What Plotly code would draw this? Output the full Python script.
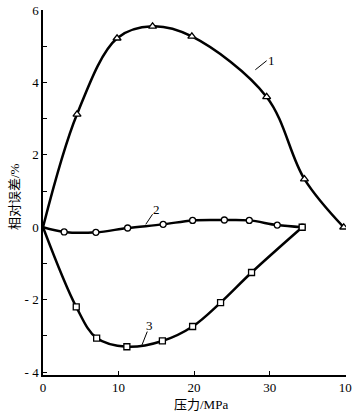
import plotly.graph_objects as go

# Curve 1 (triangles)
x1 = [0, 4.5, 9.8, 14.5, 19.7, 29.6, 34.6, 39.8]
y1 = [0, 3.12, 5.22, 5.55, 5.27, 3.6, 1.33, 0.0]
# Curve 2 (circles)
x2 = [0, 2.8, 7.0, 11.2, 15.9, 19.8, 24.0, 27.3, 31.0, 34.3]
y2 = [0, -0.13, -0.14, -0.02, 0.08, 0.19, 0.2, 0.19, 0.06, 0.0]
# Curve 3 (squares)
x3 = [0, 4.4, 7.1, 11.1, 15.8, 19.8, 23.5, 27.6, 34.3]
y3 = [0, -2.2, -3.06, -3.3, -3.14, -2.74, -2.08, -1.25, 0.0]

x_tickvals = [0, 10, 20, 30, 40]
x_ticktext = ["0", "10", "20", "30", "10"]
y_tickvals = [-4, -3, -2, -1, 0, 1, 2, 3, 4, 5, 6]
y_ticktext = ["- 4", "", "- 2", "", "0", "", "2", "", "4", "", "6"]

FONT = "Liberation Serif, Noto Sans CJK SC"

fig = go.Figure()
for xs, ys, sym, sz in [(x1, y1, "triangle-up", 7),
                        (x2, y2, "circle", 6),
                        (x3, y3, "square", 6)]:
    fig.add_trace(go.Scatter(
        x=xs, y=ys, mode="lines",
        line=dict(color="black", width=2.5, shape="spline", smoothing=1.0),
        showlegend=False, hoverinfo="skip"))
    fig.add_trace(go.Scatter(
        x=xs[1:], y=ys[1:], mode="markers",
        marker=dict(symbol=sym, size=sz, color="white", line=dict(width=1.3, color="black")),
        showlegend=False, hoverinfo="skip"))

# curve labels with leader lines
labels = [("1", 30.3, 4.6, 28.1, 4.35, 29.6, 4.6),
          ("2", 15.0, 0.48, 13.6, 0.08, 14.5, 0.36),
          ("3", 14.1, -2.7, 13.1, -3.25, 13.8, -2.88)]
for t, tx, ty, lx0, ly0, lx1, ly1 in labels:
    fig.add_annotation(x=tx, y=ty, text=t, showarrow=False,
                       font=dict(family=FONT, size=13, color="black"))
    fig.add_shape(type="line", x0=lx0, y0=ly0, x1=lx1, y1=ly1,
                  line=dict(color="black", width=1))

fig.add_annotation(xref="paper", yref="paper", x=0.52, y=-0.082,
                   xanchor="center", yanchor="middle",
                   text="压力/MPa", showarrow=False,
                   font=dict(family=FONT, size=13, color="black"))
fig.add_annotation(xref="paper", yref="paper", x=-0.096, y=0.49,
                   xanchor="center", yanchor="middle",
                   text="相对误差/%", showarrow=False, textangle=-90,
                   font=dict(family=FONT, size=13, color="black"))

fig.update_xaxes(range=[0, 40.1], tickvals=x_tickvals, ticktext=x_ticktext,
                 ticks="inside", ticklen=4, tickcolor="black",
                 showline=True, linecolor="black", linewidth=1.5,
                 showgrid=False, zeroline=False, automargin=False,
                 ticklabeloverflow="allow",
                 tickfont=dict(family=FONT, size=13, color="black"))
fig.update_yaxes(range=[-4.08, 6.0], tickvals=y_tickvals, ticktext=y_ticktext,
                 ticks="inside", ticklen=4, tickcolor="black",
                 showline=True, linecolor="black", linewidth=1.5,
                 showgrid=False, zeroline=False, automargin=False,
                 ticklabeloverflow="allow",
                 tickfont=dict(family=FONT, size=13, color="black"))

fig.update_layout(width=357, height=417,
                  margin=dict(l=43, r=11, t=10, b=42),
                  plot_bgcolor="white", paper_bgcolor="white")

# remove the default body margin so the figure fills the window exactly
fig.write_html("out.html",
               config={"displayModeBar": False},
               post_script="document.body.style.margin='0';")
